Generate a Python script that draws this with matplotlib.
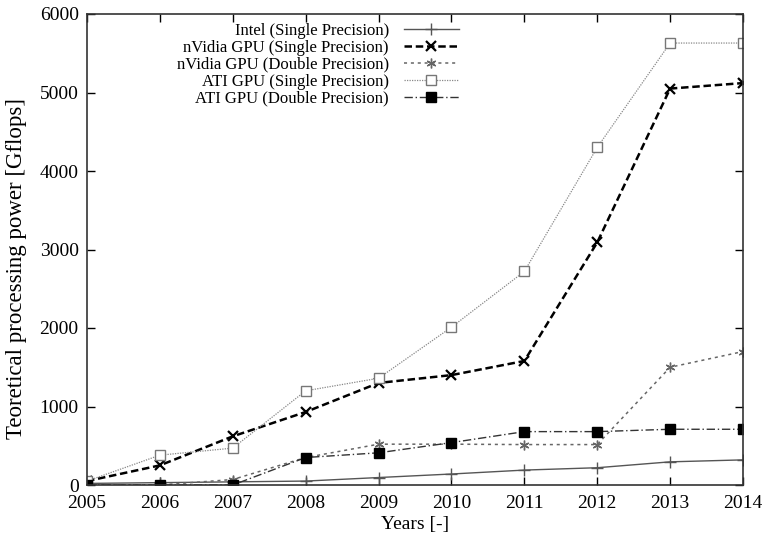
import matplotlib
matplotlib.use("Agg")
import matplotlib.pyplot as plt

years = [2005, 2006, 2007, 2008, 2009, 2010, 2011, 2012, 2013, 2014]
intel_sp = [20, 30, 40, 50, 95, 140, 190, 220, 295, 320]
nvidia_sp = [50, 250, 620, 930, 1300, 1400, 1580, 3090, 5050, 5120]
nvidia_dp = [0, 0, 70, 350, 520, 520, 515, 515, 1500, 1700]
ati_sp = [50, 380, 470, 1200, 1360, 2010, 2720, 4300, 5630, 5630]
ati_dp = [0, 0, 0, 350, 410, 540, 680, 680, 710, 710]
labels = ["Intel (Single Precision)", "nVidia GPU (Single Precision)",
          "nVidia GPU (Double Precision)", "ATI GPU (Single Precision)",
          "ATI GPU (Double Precision)"]
yticks = [0, 1000, 2000, 3000, 4000, 5000, 6000]

plt.rcParams['font.family'] = ['Liberation Serif', 'DejaVu Serif']
plt.rcParams['font.size'] = 12

fig = plt.figure(figsize=(7.63, 5.37), dpi=100)
ax = fig.add_axes([87/763, 1-485/537, 656/763, 471/537])

ax.plot(years, intel_sp, color='#555555', lw=1.0, ls='-', marker='+', ms=9, mew=1.0, label=labels[0])
ax.plot(years, nvidia_sp, color='black', lw=1.8, ls=(0, (3, 1.5)), marker='x', ms=7, mew=1.6, label=labels[1])
ax.plot(years, nvidia_dp, color='#666666', lw=1.1, ls=(0, (2, 2.5)), marker=(6, 2, 0), ms=7, mew=1.0, label=labels[2])
ax.plot(years, ati_sp, color='#888888', lw=0.9, ls=(0, (1, 1)), marker='s', ms=7, mfc='white', mec='#777777', mew=1.0, label=labels[3])
ax.plot(years, ati_dp, color='#333333', lw=1.0, ls=(0, (6, 2, 1, 2)), marker='s', ms=7, mfc='black', mec='black', label=labels[4])

ax.set_xlim(2005, 2014)
ax.set_ylim(0, 6000)
ax.set_xticks(years)
ax.set_yticks(yticks)
ax.tick_params(direction='in', top=True, right=True, length=6, width=1, labelsize=14)
ax.tick_params(axis='x', pad=7)
ax.tick_params(axis='y', pad=6)
for s in ax.spines.values():
    s.set_linewidth(1.2)
    s.set_color('#333333')

ax.set_xlabel("Years [-]", fontsize=14, labelpad=3)
ax.set_ylabel("Teoretical processing power [Gflops]", fontsize=16.5)
ax.yaxis.set_label_coords(-0.091, 0.46)

leg = ax.legend(loc='upper right', bbox_to_anchor=(0.582, 1.003), frameon=False,
                markerfirst=False, fontsize=12, handlelength=3.3, labelspacing=0.06,
                handletextpad=0.9, borderaxespad=0.2)

fig.savefig("out.png", dpi=100)
